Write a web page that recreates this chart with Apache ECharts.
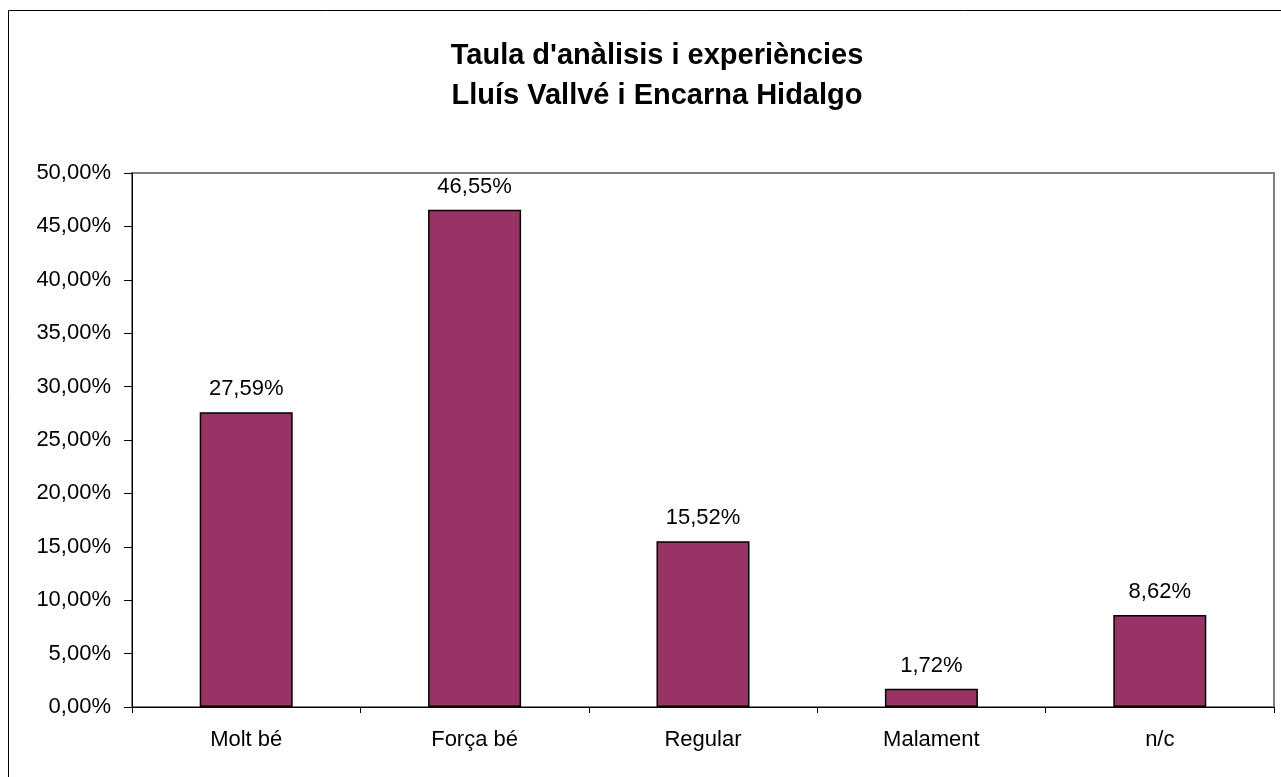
<!DOCTYPE html>
<html><head><meta charset="utf-8">
<script src="https://cdn.jsdelivr.net/npm/echarts@6/dist/echarts.min.js"></script>
<style>html,body{margin:0;padding:0;background:#fff}#c{width:1281px;height:777px}</style>
</head><body><div id="c"></div>
<script>
const categories = ["Molt bé", "Força bé", "Regular", "Malament", "n/c"];
const values = [27.59, 46.55, 15.52, 1.72, 8.62];
const titleLines = ["Taula d'anàlisis i experiències", "Lluís Vallvé i Encarna Hidalgo"];
const FONT = 'Liberation Sans, Arial, sans-serif';
const fmt = v => v.toFixed(2).replace('.', ',') + '%';
const chart = echarts.init(document.getElementById('c'), null, {renderer: 'canvas'});
chart.setOption({
  animation: false,
  backgroundColor: '#fff',
  textStyle: {fontFamily: FONT},
  title: {
    text: titleLines.join('\n'), left: 652, top: 31, textAlign: 'center',
    textStyle: {fontSize: 29, fontWeight: 'bold', color: '#000', lineHeight: 40, fontFamily: FONT}
  },
  graphic: [{
    type: 'rect', shape: {x: 8.5, y: 10.5, width: 1400, height: 900},
    style: {fill: 'none', stroke: '#000', lineWidth: 1}, z: -1, silent: true
  }],
  grid: {left: 132, top: 173, right: 7, bottom: 70, show: true, borderColor: '#808080', borderWidth: 2},
  xAxis: {
    type: 'category', data: categories,
    axisLine: {lineStyle: {color: '#000', width: 1}},
    axisTick: {show: true, alignWithLabel: false, interval: 0, length: 6, lineStyle: {color: '#000'}},
    axisLabel: {color: '#000', fontSize: 22, margin: 22, fontFamily: FONT}
  },
  yAxis: {
    type: 'value', min: 0, max: 50, interval: 5,
    axisLine: {show: true, lineStyle: {color: '#000', width: 1}},
    axisTick: {show: true, length: 8, lineStyle: {color: '#000'}},
    splitLine: {show: false},
    axisLabel: {color: '#000', fontSize: 22, margin: 21, formatter: v => fmt(v), fontFamily: FONT}
  },
  series: [{
    type: 'bar', data: values, barWidth: 93,
    itemStyle: {color: '#993366', borderColor: '#000', borderWidth: 1.5},
    label: {show: true, position: 'top', distance: 12, color: '#000', fontSize: 22, formatter: p => fmt(p.value), fontFamily: FONT}
  }]
});
</script></body></html>
